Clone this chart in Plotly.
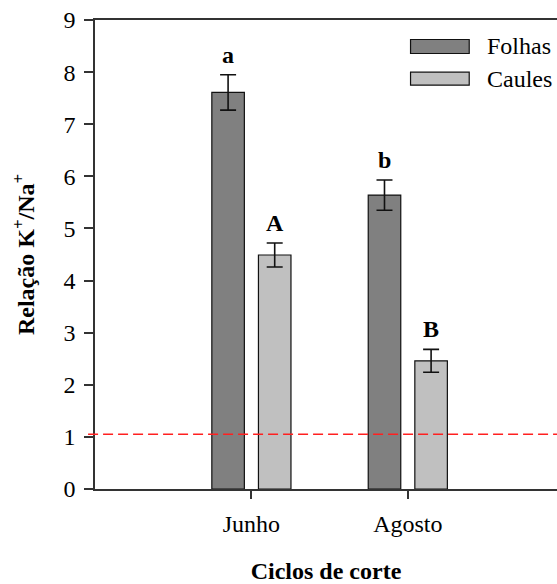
import plotly.graph_objects as go

# Ratio K+/Na+ by cutting cycle
ciclos = ["Junho", "Agosto"]
folhas = [7.61, 5.64]
folhas_err = [0.34, 0.29]
caules = [4.49, 2.46]
caules_err = [0.23, 0.22]
letras_folhas = ["a", "b"]
letras_caules = ["A", "B"]
limite = 1.05
y_ticks = list(range(0, 10))

x_pos = list(range(len(ciclos)))
font_family = "Times New Roman, Liberation Serif, DejaVu Serif, serif"

fig = go.Figure()
fig.add_trace(go.Bar(
    x=x_pos, y=folhas, name="Folhas",
    marker=dict(color="#808080", line=dict(color="#111111", width=1.2)),
    error_y=dict(type="data", array=folhas_err, color="#111111", thickness=1.6, width=8),
))
fig.add_trace(go.Bar(
    x=x_pos, y=caules, name="Caules",
    marker=dict(color="#c0c0c0", line=dict(color="#111111", width=1.2)),
    error_y=dict(type="data", array=caules_err, color="#111111", thickness=1.6, width=8),
))

# significance letters above the error bars
offset = 0.149
for i in x_pos:
    fig.add_annotation(x=i - offset, y=folhas[i] + folhas_err[i], text=f"<b>{letras_folhas[i]}</b>",
                       showarrow=False, yanchor="bottom", yshift=5,
                       font=dict(family=font_family, size=24, color="black"))
    fig.add_annotation(x=i + offset, y=caules[i] + caules_err[i], text=f"<b>{letras_caules[i]}</b>",
                       showarrow=False, yanchor="bottom", yshift=5,
                       font=dict(family=font_family, size=24, color="black"))

# reference line K+/Na+ = 1
fig.add_shape(type="line", xref="paper", x0=-0.015, x1=1, yref="y", y0=limite, y1=limite,
              line=dict(color="#ff2020", width=1.6, dash="10px,5px"))

# legend drawn as boxes with labels
legend_items = [("Folhas", "#808080", 0.9584, 0.9286), ("Caules", "#c0c0c0", 0.8888, 0.8610)]
for label, color, y_top, y_bot in legend_items:
    fig.add_shape(type="rect", xref="paper", yref="paper", x0=0.683, x1=0.810, y0=y_bot, y1=y_top,
                  fillcolor=color, line=dict(color="#111111", width=1.2))
    fig.add_annotation(xref="paper", yref="paper", x=0.845, y=(y_top + y_bot) / 2, text=label,
                       showarrow=False, xanchor="left", yanchor="middle",
                       font=dict(family=font_family, size=24, color="black"))

fig.update_layout(
    width=557, height=584,
    margin=dict(l=95, r=0, t=20, b=95),
    paper_bgcolor="white", plot_bgcolor="white",
    barmode="group", bargap=0.404, bargroupgap=0.302,
    showlegend=False,
    font=dict(family=font_family, size=24, color="black"),
)
fig.update_xaxes(
    range=[-1, 1.954], tickvals=x_pos, ticktext=ciclos,
    ticks="outside", ticklen=8, tickwidth=1.5, tickcolor="#333333",
    showline=True, linecolor="#333333", linewidth=1.6, mirror=True,
    showgrid=False, zeroline=False,
    tickfont=dict(family=font_family, size=24), ticklabelstandoff=4,
    title=dict(text="<b>Ciclos de corte</b>", font=dict(family=font_family, size=24), standoff=30),
)
fig.update_yaxes(
    range=[0, 9], tickvals=y_ticks,
    ticks="outside", ticklen=9, tickwidth=1.5, tickcolor="#333333",
    showline=True, linecolor="#333333", linewidth=1.6,
    showgrid=False, zeroline=False,
    tickfont=dict(family=font_family, size=24), ticklabelstandoff=4,
    title=dict(text="<b>Relação K<sup>+</sup>/Na<sup>+</sup></b>",
               font=dict(family=font_family, size=24), standoff=22),
)

fig.write_html("out.html")
